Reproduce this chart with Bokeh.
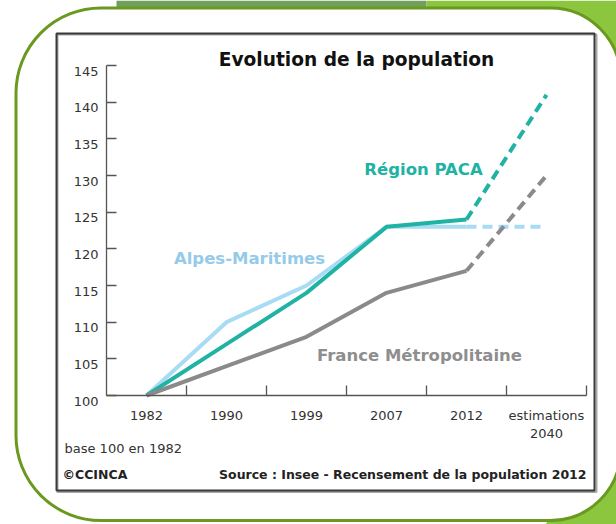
from bokeh.plotting import figure
from bokeh.models import (Range1d, FixedTicker, Label, BoxAnnotation, PolyAnnotation,
                          LinearAxis)
from bokeh.embed import file_html
from bokeh.resources import INLINE

# ---------------- data ----------------
years = ["1982", "1990", "1999", "2007", "2012", "2040"]
year_labels = ["1982", "1990", "1999", "2007", "2012", "estimations\n2040"]
paca = [100, 107, 114, 123, 124, 141]
alpes = [100, 110, 115, 123, 123, 123]
france = [100, 104, 108, 114, 117, 130]
y_ticks = [100, 105, 110, 115, 120, 125, 130, 135, 140, 145]

title_text = "Evolution de la population"
series_names = ["Région PACA", "Alpes-Maritimes", "France Métropolitaine"]
note_text = "base 100 en 1982"
credit_text = "©CCINCA"
source_text = "Source : Insee - Recensement de la population 2012"

# ---------------- layout / style ----------------
W, H = 616, 524
FONT = "DejaVu Sans"
C_PACA = "#20b2a2"
C_ALPES = "#a8dbf4"
C_ALPES_TXT = "#95cbe8"
C_FR = "#8a8a8a"
C_FR_TXT = "#8e8e8e"
AXIS_C = "#555555"
TXT_C = "#333333"

# chart area in page pixels: categories 80 px wide starting at x=106; 100..145 spans y 395..65
X_LEFT, CAT_W = 106, 80
Y_BASE, PX_PER_UNIT = 395, 330 / 45
n = len(years)
xpos = [i + 0.5 for i in range(n)]          # category centres on a numeric scale
x_range = Range1d(-X_LEFT / CAT_W, (W - X_LEFT) / CAT_W)
y_range = Range1d(y_ticks[0] - (H - Y_BASE) / PX_PER_UNIT, y_ticks[0] + Y_BASE / PX_PER_UNIT)

p = figure(x_range=x_range, y_range=y_range, width=W, height=H, min_border=0,
           x_axis_location=None, y_axis_location=None,
           output_backend="svg", toolbar_location=None,
           background_fill_color="white", border_fill_color="white")
p.outline_line_color = None
p.grid.visible = False

# label range: y labels sit ~5.5 px below their ticks
LAB_DROP = 5.5 / PX_PER_UNIT
p.extra_y_ranges = {"ylab": Range1d(y_range.start + LAB_DROP, y_range.end + LAB_DROP)}

def sx(X):
    return X
def sy(Y):
    return H - Y

# ---------------- decoration ----------------
def poly(pts, color):
    p.add_layout(PolyAnnotation(xs=[sx(a) for a, b in pts], ys=[sy(b) for a, b in pts],
                                xs_units="screen", ys_units="screen",
                                fill_color=color, fill_alpha=1, line_color=None,
                                level="underlay"))

poly([(116, 0), (426, 0), (426, 9), (116, 9)], "#70a05c")
poly([(426, 0), (616, 0), (616, 95), (426, 9)], "#8cc63f")
poly([(616, 420), (616, 524), (545, 524)], "#8cc63f")

def box(l, r, t, b, **kw):
    p.add_layout(BoxAnnotation(left=sx(l), right=sx(r), top=sy(t), bottom=sy(b),
                               left_units="screen", right_units="screen",
                               top_units="screen", bottom_units="screen",
                               level="underlay", **kw))

box(15.5, 620, 7.5, 520, fill_color="white", fill_alpha=1, line_color="#6a991f",
    line_width=3, line_alpha=1, border_radius=(85, 70, 70, 85))
box(57, 596, 34, 491.5, fill_color=None, fill_alpha=0, line_color="#a8a8a8",
    line_width=2, line_alpha=1)
box(56, 594, 33, 490, fill_color=None, fill_alpha=0, line_color="#3a3a3a",
    line_width=2, line_alpha=1)

# ---------------- axes ----------------
def style_labels(ax, size="13px"):
    ax.major_label_text_font = FONT
    ax.major_label_text_font_size = size
    ax.major_label_text_color = TXT_C

# y axis: line + inward ticks
y_tick_axis = LinearAxis(ticker=FixedTicker(ticks=y_ticks), fixed_location=0,
                         bounds=(y_ticks[0], y_ticks[-1]),
                         axis_line_color=AXIS_C, axis_line_width=1.3,
                         major_tick_line_color=AXIS_C, major_tick_line_width=1.3,
                         major_tick_in=10, major_tick_out=0,
                         minor_tick_line_color=None, major_label_text_color=None)
p.add_layout(y_tick_axis, "left")
# y axis labels
y_lab_axis = LinearAxis(y_range_name="ylab", ticker=FixedTicker(ticks=y_ticks), fixed_location=0,
                        axis_line_color=None, major_tick_line_color=None,
                        major_tick_in=0, major_tick_out=0, minor_tick_line_color=None,
                        major_label_standoff=8)
style_labels(y_lab_axis)
p.add_layout(y_lab_axis, "left")

# x axis: line + inward ticks at category boundaries
x_tick_axis = LinearAxis(ticker=FixedTicker(ticks=[i + 1 for i in range(n)]),
                         fixed_location=y_ticks[0], bounds=(0, n),
                         axis_line_color=AXIS_C, axis_line_width=1.3,
                         major_tick_line_color=AXIS_C, major_tick_line_width=1.3,
                         major_tick_in=10, major_tick_out=0,
                         minor_tick_line_color=None, major_label_text_color=None)
p.add_layout(x_tick_axis, "below")
# x axis labels at category centres
x_lab_axis = LinearAxis(ticker=FixedTicker(ticks=xpos), fixed_location=y_ticks[0],
                        axis_line_color=None, major_tick_line_color=None,
                        major_tick_in=0, major_tick_out=0, minor_tick_line_color=None,
                        major_label_standoff=12,
                        major_label_overrides={x: lab for x, lab in zip(xpos, year_labels)})
style_labels(x_lab_axis)
p.add_layout(x_lab_axis, "below")

# ---------------- series ----------------
DASH = "10 6"
for vals, col in [(alpes, C_ALPES), (paca, C_PACA), (france, C_FR)]:
    p.line(xpos[:5], vals[:5], line_color=col, line_width=4)
    p.line(xpos[4:], vals[4:], line_color=col, line_width=4, line_dash=DASH)

# ---------------- texts ----------------
def add_label(X, Y, text, size, color, bold=False, align="left", baseline="alphabetic"):
    p.add_layout(Label(x=sx(X), y=sy(Y), x_units="screen", y_units="screen", text=text,
                       text_font=FONT, text_font_size=size, text_color=color,
                       text_font_style="bold" if bold else "normal",
                       text_align=align, text_baseline=baseline))

add_label(356, 58.5, title_text, "18.6px", "#111111", bold=True, align="center")
add_label(423, 169, series_names[0], "16.5px", C_PACA, bold=True, align="center")
add_label(249, 258.3, series_names[1], "16.5px", C_ALPES_TXT, bold=True, align="center")
add_label(419, 355, series_names[2], "16.5px", C_FR_TXT, bold=True, align="center")
add_label(64, 447.5, note_text, "13px", TXT_C)
add_label(62, 474, credit_text, "12.5px", "#222222", bold=True)
add_label(586, 474, source_text, "12.5px", "#222222", bold=True, align="right")

open("out.html", "w").write(file_html(p, INLINE))
